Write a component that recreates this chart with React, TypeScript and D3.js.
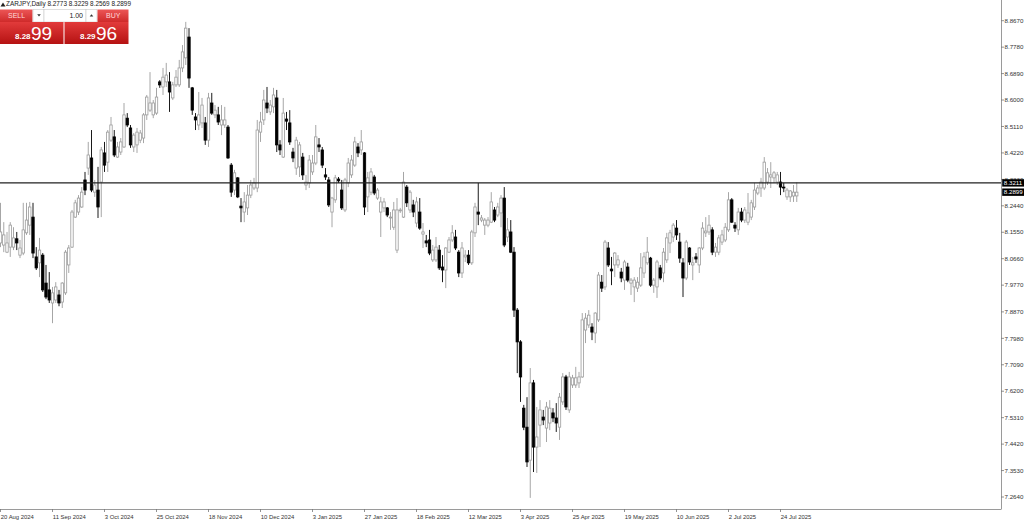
import React from "react";
import * as d3 from "d3";

const symbolTitle = "ZARJPY,Daily";
const headerOHLC = ["8.2773", "8.3229", "8.2569", "8.2899"];

// [open, high, low, close] per daily bar
const candles: number[][] = [
  [8.119, 8.254, 8.105, 8.156], [8.112, 8.189, 8.088, 8.146], [8.088, 8.156, 8.085, 8.119], [8.105, 8.189, 8.072, 8.179],
  [8.105, 8.172, 8.095, 8.136], [8.133, 8.156, 8.095, 8.119], [8.078, 8.129, 8.068, 8.102], [8.085, 8.254, 8.078, 8.163],
  [8.153, 8.254, 8.146, 8.196], [8.179, 8.257, 8.146, 8.240], [8.206, 8.254, 8.068, 8.085], [8.072, 8.105, 8.028, 8.035],
  [8.052, 8.136, 8.004, 8.095], [8.078, 8.085, 7.954, 7.961], [7.984, 8.045, 7.930, 7.937], [7.961, 8.021, 7.917, 7.927],
  [7.917, 7.971, 7.849, 7.951], [7.927, 7.987, 7.917, 7.971], [7.944, 7.961, 7.906, 7.917], [7.920, 7.987, 7.900, 7.984],
  [7.951, 8.095, 7.944, 8.088], [8.045, 8.112, 8.018, 8.102], [8.105, 8.230, 8.102, 8.223], [8.206, 8.264, 8.203, 8.254],
  [8.223, 8.280, 8.213, 8.270], [8.240, 8.307, 8.237, 8.290], [8.331, 8.358, 8.280, 8.297], [8.371, 8.459, 8.348, 8.415],
  [8.405, 8.499, 8.290, 8.297], [8.290, 8.331, 8.274, 8.314], [8.297, 8.375, 8.203, 8.240], [8.324, 8.442, 8.206, 8.432],
  [8.422, 8.459, 8.358, 8.381], [8.391, 8.499, 8.358, 8.492], [8.465, 8.543, 8.459, 8.516], [8.476, 8.499, 8.408, 8.415],
  [8.408, 8.459, 8.405, 8.442], [8.425, 8.472, 8.415, 8.459], [8.442, 8.590, 8.439, 8.550], [8.539, 8.556, 8.509, 8.516],
  [8.506, 8.516, 8.439, 8.449], [8.442, 8.489, 8.425, 8.482], [8.449, 8.506, 8.422, 8.492], [8.465, 8.499, 8.455, 8.489],
  [8.472, 8.556, 8.455, 8.550], [8.550, 8.617, 8.533, 8.610], [8.566, 8.694, 8.560, 8.590], [8.550, 8.600, 8.539, 8.590],
  [8.556, 8.641, 8.550, 8.610], [8.661, 8.667, 8.641, 8.651], [8.644, 8.708, 8.617, 8.677], [8.661, 8.725, 8.644, 8.684],
  [8.661, 8.694, 8.560, 8.627], [8.607, 8.661, 8.600, 8.651], [8.651, 8.701, 8.644, 8.677], [8.651, 8.735, 8.644, 8.708],
  [8.708, 8.785, 8.694, 8.762], [8.742, 8.863, 8.718, 8.842], [8.812, 8.842, 8.641, 8.674], [8.641, 8.644, 8.550, 8.566],
  [8.543, 8.556, 8.499, 8.533], [8.516, 8.627, 8.499, 8.550], [8.523, 8.607, 8.506, 8.583], [8.523, 8.543, 8.449, 8.465],
  [8.465, 8.624, 8.442, 8.607], [8.590, 8.624, 8.550, 8.556], [8.550, 8.583, 8.539, 8.566], [8.550, 8.577, 8.516, 8.526],
  [8.516, 8.583, 8.482, 8.533], [8.516, 8.577, 8.506, 8.533], [8.509, 8.516, 8.402, 8.405], [8.381, 8.388, 8.274, 8.290],
  [8.297, 8.365, 8.280, 8.355], [8.338, 8.341, 8.270, 8.274], [8.243, 8.270, 8.189, 8.237], [8.223, 8.290, 8.189, 8.257],
  [8.237, 8.314, 8.213, 8.280], [8.280, 8.331, 8.270, 8.314], [8.304, 8.338, 8.297, 8.321], [8.304, 8.533, 8.290, 8.499],
  [8.492, 8.560, 8.459, 8.526], [8.533, 8.634, 8.516, 8.600], [8.590, 8.644, 8.556, 8.573], [8.560, 8.600, 8.550, 8.583],
  [8.577, 8.641, 8.556, 8.617], [8.607, 8.634, 8.425, 8.449], [8.449, 8.465, 8.415, 8.432], [8.408, 8.607, 8.405, 8.556],
  [8.536, 8.560, 8.499, 8.529], [8.523, 8.566, 8.449, 8.459], [8.425, 8.439, 8.391, 8.405], [8.371, 8.476, 8.348, 8.465],
  [8.375, 8.459, 8.341, 8.449], [8.408, 8.422, 8.331, 8.348], [8.314, 8.348, 8.297, 8.324], [8.321, 8.415, 8.304, 8.398],
  [8.358, 8.415, 8.348, 8.388], [8.388, 8.516, 8.381, 8.476], [8.449, 8.472, 8.425, 8.442], [8.432, 8.442, 8.371, 8.381],
  [8.348, 8.371, 8.331, 8.341], [8.331, 8.341, 8.240, 8.247], [8.223, 8.274, 8.172, 8.270], [8.264, 8.348, 8.254, 8.338],
  [8.334, 8.341, 8.321, 8.328], [8.297, 8.331, 8.230, 8.237], [8.230, 8.338, 8.223, 8.331], [8.321, 8.405, 8.307, 8.388],
  [8.348, 8.415, 8.338, 8.398], [8.381, 8.476, 8.375, 8.459], [8.442, 8.455, 8.408, 8.422], [8.432, 8.499, 8.415, 8.459],
  [8.422, 8.425, 8.213, 8.240], [8.274, 8.358, 8.223, 8.338], [8.290, 8.371, 8.280, 8.358], [8.341, 8.348, 8.280, 8.287],
  [8.270, 8.304, 8.264, 8.297], [8.223, 8.274, 8.139, 8.257], [8.237, 8.270, 8.223, 8.257], [8.237, 8.240, 8.206, 8.213],
  [8.203, 8.223, 8.163, 8.206], [8.172, 8.257, 8.163, 8.230], [8.095, 8.270, 8.085, 8.230], [8.227, 8.237, 8.220, 8.230],
  [8.206, 8.358, 8.203, 8.324], [8.307, 8.314, 8.240, 8.254], [8.230, 8.297, 8.220, 8.290], [8.247, 8.264, 8.206, 8.223],
  [8.186, 8.274, 8.172, 8.257], [8.223, 8.270, 8.163, 8.169], [8.149, 8.186, 8.102, 8.156], [8.126, 8.146, 8.105, 8.119],
  [8.129, 8.163, 8.078, 8.085], [8.062, 8.112, 8.055, 8.095], [8.062, 8.139, 8.055, 8.105], [8.095, 8.112, 8.028, 8.035],
  [8.038, 8.078, 7.987, 8.028], [8.028, 8.105, 7.967, 8.102], [8.088, 8.139, 8.085, 8.129], [8.129, 8.179, 8.122, 8.153],
  [8.139, 8.163, 8.095, 8.102], [8.088, 8.095, 8.004, 8.018], [8.018, 8.122, 8.001, 8.102], [8.072, 8.095, 8.055, 8.078],
  [8.078, 8.095, 8.045, 8.052], [8.052, 8.163, 8.045, 8.156], [8.153, 8.254, 8.139, 8.240], [8.223, 8.321, 8.179, 8.216],
  [8.196, 8.213, 8.189, 8.203], [8.179, 8.203, 8.146, 8.196], [8.179, 8.206, 8.172, 8.196], [8.189, 8.290, 8.186, 8.257],
  [8.230, 8.240, 8.189, 8.196], [8.213, 8.254, 8.206, 8.240], [8.220, 8.280, 8.172, 8.270], [8.270, 8.307, 8.105, 8.112],
  [8.139, 8.203, 8.122, 8.163], [8.156, 8.196, 8.085, 8.088], [8.088, 8.105, 7.870, 7.893], [7.893, 7.900, 7.681, 7.786],
  [7.786, 7.792, 7.584, 7.668], [7.563, 7.574, 7.489, 7.499], [7.499, 7.600, 7.365, 7.382], [7.388, 7.698, 7.261, 7.648],
  [7.648, 7.658, 7.348, 7.432], [7.432, 7.567, 7.345, 7.466], [7.506, 7.590, 7.432, 7.557], [7.533, 7.557, 7.506, 7.523],
  [7.496, 7.584, 7.449, 7.567], [7.513, 7.590, 7.489, 7.563], [7.547, 7.563, 7.516, 7.530], [7.530, 7.580, 7.483, 7.513],
  [7.499, 7.614, 7.456, 7.600], [7.584, 7.681, 7.574, 7.668], [7.668, 7.675, 7.557, 7.567], [7.557, 7.685, 7.547, 7.668],
  [7.641, 7.675, 7.631, 7.665], [7.641, 7.702, 7.631, 7.665], [7.648, 7.685, 7.631, 7.668], [7.668, 7.883, 7.665, 7.860],
  [7.826, 7.883, 7.782, 7.866], [7.843, 7.893, 7.833, 7.876], [7.836, 7.849, 7.792, 7.819], [7.816, 7.886, 7.782, 7.883],
  [7.860, 8.021, 7.853, 8.011], [7.987, 8.011, 7.954, 7.967], [7.971, 8.129, 7.961, 8.122], [8.102, 8.122, 8.038, 8.045],
  [8.031, 8.072, 7.977, 8.025], [8.045, 8.088, 8.004, 8.085], [8.045, 8.078, 8.035, 8.062], [8.021, 8.035, 7.987, 8.001],
  [7.994, 8.062, 7.961, 8.055], [8.038, 8.052, 7.987, 7.994], [7.984, 8.001, 7.944, 7.994], [7.971, 8.004, 7.920, 7.994],
  [7.967, 8.004, 7.954, 7.987], [7.977, 8.085, 7.971, 8.035], [8.018, 8.088, 8.001, 8.072], [8.052, 8.139, 8.045, 8.088],
  [8.068, 8.072, 7.971, 7.977], [7.977, 8.001, 7.951, 7.994], [7.971, 8.062, 7.934, 8.055], [8.035, 8.045, 7.994, 8.001],
  [8.018, 8.102, 7.987, 8.088], [8.062, 8.153, 8.052, 8.136], [8.119, 8.163, 8.085, 8.153], [8.139, 8.186, 8.122, 8.179],
  [8.169, 8.196, 8.129, 8.146], [8.122, 8.153, 8.052, 8.068], [8.052, 8.068, 7.937, 8.001], [8.001, 8.129, 7.994, 8.122],
  [8.102, 8.105, 8.045, 8.055], [8.045, 8.072, 7.994, 8.052], [8.072, 8.085, 8.052, 8.065], [8.045, 8.105, 8.018, 8.102],
  [8.102, 8.189, 8.095, 8.169], [8.153, 8.206, 8.139, 8.159], [8.156, 8.213, 8.146, 8.179], [8.163, 8.172, 8.078, 8.088],
  [8.088, 8.119, 8.072, 8.105], [8.088, 8.146, 8.078, 8.136], [8.122, 8.163, 8.112, 8.146], [8.129, 8.186, 8.122, 8.172],
  [8.163, 8.290, 8.156, 8.264], [8.264, 8.270, 8.186, 8.189], [8.179, 8.189, 8.156, 8.169], [8.163, 8.237, 8.146, 8.223],
  [8.223, 8.237, 8.189, 8.196], [8.196, 8.240, 8.186, 8.230], [8.189, 8.287, 8.179, 8.220], [8.206, 8.264, 8.196, 8.254],
  [8.240, 8.321, 8.230, 8.297], [8.287, 8.314, 8.280, 8.304], [8.304, 8.338, 8.274, 8.324], [8.304, 8.408, 8.297, 8.391],
  [8.324, 8.371, 8.314, 8.355], [8.341, 8.391, 8.304, 8.348], [8.338, 8.361, 8.321, 8.355], [8.324, 8.358, 8.314, 8.348],
  [8.324, 8.358, 8.280, 8.307], [8.307, 8.321, 8.290, 8.304], [8.274, 8.304, 8.264, 8.297], [8.274, 8.297, 8.257, 8.294],
  [8.277, 8.314, 8.257, 8.290], [8.2773, 8.3229, 8.2569, 8.2899],
];

const dateLabels = [
  "20 Aug 2024", "11 Sep 2024", "3 Oct 2024", "25 Oct 2024", "18 Nov 2024", "10 Dec 2024",
  "3 Jan 2025", "27 Jan 2025", "18 Feb 2025", "12 Mar 2025", "3 Apr 2025", "25 Apr 2025",
  "19 May 2025", "10 Jun 2025", "2 Jul 2025", "24 Jul 2025",
];
const barsPerDateLabel = 16;

const priceTicks = [
  "8.8670", "8.7780", "8.6890", "8.6000", "8.5110", "8.4220", "8.3330", "8.2440", "8.1550", "8.0660",
  "7.9770", "7.8870", "7.7980", "7.7090", "7.6200", "7.5310", "7.4420", "7.3530", "7.2640",
];

const levelLine = 8.3211;
const lastPrice = 8.2899;
const sellQuote = ["8.28", "99"];
const buyQuote = ["8.29", "96"];
const lotSize = "1.00";

const FONT = "'Liberation Sans', Arial, sans-serif";

export default function App() {
  const W = 1024;
  const H = 523;
  const plotRight = 1001;
  const plotBottom = 509;

  const x = d3.scaleLinear().domain([0, candles.length - 1]).range([0.5, 796.75]);
  const y = d3.scaleLinear().domain([7.264, 8.867]).range([497, 20.7]);

  const bull = "#9c9c9c";
  const bw = 2.4;

  return (
    <svg
      width={W}
      height={H}
      viewBox={`0 0 ${W} ${H}`}
      style={{ position: "absolute", left: 0, top: 0, background: "#fff", fontFamily: FONT }}
    >
      <defs>
        <linearGradient id="redBig" x1="0" y1="0" x2="0" y2="1">
          <stop offset="0" stopColor="#e23b3b" />
          <stop offset="1" stopColor="#b51212" />
        </linearGradient>
        <linearGradient id="redBtn" x1="0" y1="0" x2="0" y2="1">
          <stop offset="0" stopColor="#ec5656" />
          <stop offset="1" stopColor="#cf2a2a" />
        </linearGradient>
        <clipPath id="plotClip">
          <rect x={0} y={0} width={plotRight} height={plotBottom} />
        </clipPath>
      </defs>
      <rect x={0} y={0} width={W} height={H} fill="#fff" />

      {/* candles */}
      <g clipPath="url(#plotClip)">
        {candles.map((c, i) => {
          const [o, h, l, cl] = c;
          const up = cl >= o;
          const cx = x(i);
          const top = y(Math.max(o, cl));
          const bot = y(Math.min(o, cl));
          const col = up ? bull : "#000";
          return (
            <g key={i}>
              <line x1={cx} x2={cx} y1={y(h)} y2={y(l)} stroke={col} strokeWidth={0.9} />
              <rect
                x={cx - bw / 2}
                y={top}
                width={bw}
                height={Math.max(bot - top, 0.8)}
                fill={up ? "#fff" : "#000"}
                stroke={col}
                strokeWidth={0.8}
              />
            </g>
          );
        })}
      </g>

      {/* horizontal level line */}
      <line x1={0} x2={plotRight} y1={y(levelLine)} y2={y(levelLine)} stroke="#222" strokeWidth={1.3} />

      {/* axes frame */}
      <line x1={plotRight + 0.5} x2={plotRight + 0.5} y1={0} y2={plotBottom} stroke="#9a9a9a" strokeWidth={1} />
      <line x1={0} x2={plotRight + 0.5} y1={plotBottom + 0.5} y2={plotBottom + 0.5} stroke="#9a9a9a" strokeWidth={1} />

      {/* price axis */}
      {priceTicks.map((t) => (
        <g key={t}>
          <line x1={plotRight} x2={plotRight + 3} y1={y(+t)} y2={y(+t)} stroke="#777" strokeWidth={0.8} />
          <text x={plotRight + 3.5} y={y(+t)} dy="0.35em" fontSize={6.2} fill="#333">
            {t}
          </text>
        </g>
      ))}
      {[levelLine, lastPrice].map((p) => (
        <g key={p}>
          <rect x={plotRight + 1.2} y={y(p) - 3.7} width={22} height={7.4} fill="#000" />
          <text x={plotRight + 2.8} y={y(p)} dy="0.35em" fontSize={6.2} fill="#fff">
            {p.toFixed(4)}
          </text>
        </g>
      ))}

      {/* date axis */}
      {dateLabels.map((d, k) => {
        const xi = x(k * barsPerDateLabel);
        return (
          <g key={d}>
            <line x1={xi} x2={xi} y1={plotBottom} y2={plotBottom + 3} stroke="#777" strokeWidth={0.8} />
            <text x={xi + 0.3} y={plotBottom + 9.5} fontSize={5.9} fill="#333">
              {d}
            </text>
          </g>
        );
      })}

      {/* header */}
      <path d="M0.5,6.5 L3,2.5 L5.5,6.5 Z" fill="#222" />
      <text x={6} y={6.4} fontSize={6.4} fill="#222">
        {symbolTitle + " " + headerOHLC.join(" ")}
      </text>

      {/* one-click trading panel */}
      <g>
        <rect x={0} y={9.5} width={32.5} height={12.5} fill="url(#redBtn)" />
        <text x={8} y={18.4} fontSize={7} fill="#ffd9d9">SELL</text>
        <rect x={33} y={9.5} width={11} height={12.5} fill="#fff" stroke="#c8c8c8" strokeWidth={0.6} />
        <path d="M37.2,14.2 L40.8,14.2 L39,16.4 Z" fill="#333" />
        <rect x={44} y={9.5} width={42} height={12.5} fill="#fff" stroke="#c8c8c8" strokeWidth={0.6} />
        <text x={83} y={18.4} fontSize={7} fill="#222" textAnchor="end">{lotSize}</text>
        <rect x={86} y={9.5} width={11} height={12.5} fill="#fff" stroke="#c8c8c8" strokeWidth={0.6} />
        <path d="M89.7,16.4 L93.3,16.4 L91.5,14.2 Z" fill="#333" />
        <rect x={97.5} y={9.5} width={31} height={12.5} fill="url(#redBtn)" />
        <text x={106} y={18.4} fontSize={7} fill="#ffd9d9">BUY</text>

        <rect x={0} y={22} width={63.5} height={22} fill="url(#redBig)" />
        <text x={15} y={39} fontSize={8} fontWeight="bold" fill="#fff">{sellQuote[0]}</text>
        <text x={31} y={39.5} fontSize={19} fill="#fff">{sellQuote[1]}</text>
        <rect x={64.5} y={22} width={64} height={22} fill="url(#redBig)" />
        <text x={80} y={39} fontSize={8} fontWeight="bold" fill="#fff">{buyQuote[0]}</text>
        <text x={96} y={39.5} fontSize={19} fill="#fff">{buyQuote[1]}</text>
      </g>
    </svg>
  );
}
